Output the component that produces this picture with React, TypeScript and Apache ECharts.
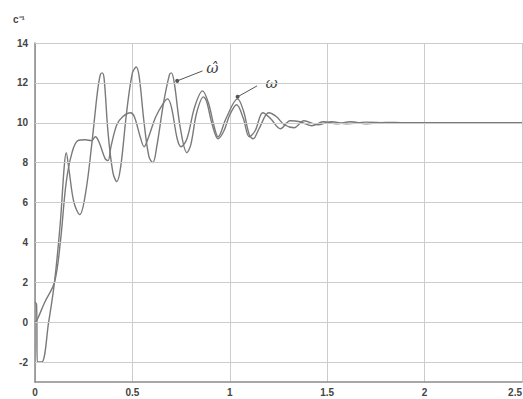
import React, { useEffect, useRef } from "react";
import * as echarts from "echarts";

// Estimated speed ω̂ (t [s], value [c^-1])
const omegaHat: [number, number][] = [
  [0, 1.0], [0.008, 0.9], [0.012, -2.0], [0.035, -2.0], [0.07, 0.0], [0.1, 2.0],
  [0.13, 5.0], [0.15, 7.8], [0.16, 8.5], [0.175, 7.6], [0.2, 6.0], [0.23, 5.4],
  [0.26, 6.5], [0.29, 8.8], [0.32, 11.5], [0.335, 12.4], [0.345, 12.5], [0.355, 12.2],
  [0.375, 9.5], [0.4, 7.5], [0.42, 7.05], [0.44, 7.8], [0.47, 10.5], [0.5, 12.5],
  [0.52, 12.8], [0.535, 12.3], [0.56, 10.0], [0.585, 8.3], [0.605, 8.0], [0.625, 8.8],
  [0.66, 11.0], [0.69, 12.4], [0.7, 12.5], [0.715, 12.0], [0.745, 9.8], [0.78, 8.5],
  [0.8, 8.9], [0.83, 10.5], [0.865, 11.3], [0.88, 11.1], [0.91, 9.9], [0.94, 9.2],
  [0.97, 9.6], [1.0, 10.4], [1.035, 10.9], [1.07, 10.2], [1.1, 9.3], [1.13, 9.6],
  [1.17, 10.5], [1.21, 10.2], [1.26, 9.7], [1.31, 10.1], [1.36, 10.05], [1.42, 9.85],
  [1.48, 10.05], [1.55, 9.95], [1.62, 10.05], [1.7, 9.95], [1.8, 10.02], [1.9, 10.0],
  [2.0, 10.0], [2.5, 10.0],
];

// Actual speed ω
const omega: [number, number][] = [
  [0, 0.0], [0.01, 0.1], [0.05, 1.0], [0.1, 2.0], [0.13, 4.0], [0.16, 7.0],
  [0.19, 8.5], [0.22, 9.1], [0.26, 9.15], [0.29, 9.1], [0.31, 9.3], [0.33, 9.0],
  [0.36, 8.2], [0.375, 8.1], [0.39, 8.8], [0.42, 9.9], [0.45, 10.3], [0.49, 10.5],
  [0.51, 10.3], [0.54, 9.3], [0.56, 8.8], [0.58, 9.2], [0.62, 10.3], [0.66, 11.0],
  [0.68, 11.2], [0.7, 10.8], [0.73, 9.2], [0.75, 8.8], [0.78, 9.2], [0.82, 10.8],
  [0.86, 11.6], [0.89, 11.0], [0.92, 9.8], [0.94, 9.3], [0.98, 10.2], [1.04, 11.2],
  [1.07, 10.6], [1.1, 9.4], [1.12, 9.2], [1.15, 9.7], [1.2, 10.5], [1.24, 10.3],
  [1.28, 9.9], [1.33, 9.75], [1.38, 10.1], [1.45, 9.9], [1.52, 10.05], [1.6, 9.95],
  [1.7, 10.03], [1.8, 10.0], [2.5, 10.0],
];

const yGridValues = [-2, 0, 2, 4, 6, 8, 10, 12, 14];
const yUnit = "c⁻¹";
const labelHat = "ω̂";
const labelOmega = "ω";
// annotation arrows: [label position, arrow start, arrow end] in data coords
const hatArrow: [number, number][] = [[0.91, 12.75], [0.86, 12.6], [0.73, 12.1]];
const omegaArrow: [number, number][] = [[1.215, 12.0], [1.14, 11.85], [1.04, 11.3]];

export default function App() {
  const ref = useRef<HTMLDivElement>(null);
  useEffect(() => {
    if (!ref.current) return;
    const chart = echarts.init(ref.current, undefined, { renderer: "svg" });
    const curveColor = "#7a7a7a";
    const gridColor = "#cccccc";
    const arrowLine = (a: [number, number][]) => [
      { coord: a[1], symbol: "none" },
      { coord: a[2], symbol: "circle" },
    ];
    chart.setOption({
      animation: false,
      backgroundColor: "#ffffff",
      grid: {
        left: 35,
        right: 1,
        top: 43,
        bottom: 17,
        containLabel: false,
        outerBoundsMode: "none",
      },
      xAxis: {
        type: "value",
        min: 0,
        max: 2.5,
        interval: 0.5,
        axisLine: { show: true, onZero: false, lineStyle: { color: "#8a8a8a", width: 1.5 } },
        axisTick: { show: false },
        axisLabel: {
          margin: 5,
          color: "#444",
          fontSize: 10,
          fontWeight: "bold",
          fontFamily: "Liberation Sans, Arial, sans-serif",
          alignMaxLabel: "right",
          formatter: (v: number) => String(v),
        },
        splitLine: { show: true, lineStyle: { color: gridColor, width: 1 } },
      },
      yAxis: {
        type: "value",
        min: -3,
        max: 14,
        interval: 1,
        axisLine: { show: true, lineStyle: { color: "#8a8a8a", width: 1.5 } },
        axisTick: { show: false },
        axisLabel: {
          margin: 7,
          color: "#444",
          fontSize: 10,
          fontWeight: "bold",
          fontFamily: "Liberation Sans, Arial, sans-serif",
          formatter: (v: number) => (yGridValues.includes(v) ? String(v) : ""),
        },
        splitLine: { show: false },
      },
      series: [
        {
          type: "line",
          data: [[0, -3]],
          z: 0,
          silent: true,
          showSymbol: false,
          lineStyle: { opacity: 0 },
          markLine: {
            silent: true,
            symbol: ["none", "none"],
            label: { show: false },
            lineStyle: { color: gridColor, type: "solid", width: 1 },
            data: yGridValues.map((v) => ({ yAxis: v })),
          },
        },
        {
          name: "omegaHat",
          type: "line",
          data: omegaHat,
          showSymbol: false,
          smooth: 0.35,
          z: 3,
          lineStyle: { color: curveColor, width: 1.4 },
          markLine: {
            silent: true,
            symbolSize: 4,
            label: { show: false },
            lineStyle: { color: "#555", type: "solid", width: 1 },
            data: [arrowLine(hatArrow)],
          },
        },
        {
          name: "omega",
          type: "line",
          data: omega,
          showSymbol: false,
          smooth: 0.35,
          z: 3,
          lineStyle: { color: curveColor, width: 1.4 },
          markLine: {
            silent: true,
            symbolSize: 4,
            label: { show: false },
            lineStyle: { color: "#555", type: "solid", width: 1 },
            data: [arrowLine(omegaArrow)],
          },
        },
      ],
    });
    const p1 = chart.convertToPixel({ gridIndex: 0 }, hatArrow[0]) as number[];
    const p2 = chart.convertToPixel({ gridIndex: 0 }, omegaArrow[0]) as number[];
    chart.setOption({
      graphic: [
        {
          type: "text",
          left: 13,
          top: 14,
          style: {
            text: yUnit,
            fill: "#444",
            font: "bold 10px 'Liberation Sans', Arial, sans-serif",
          },
        },
        {
          type: "text",
          x: p1[0],
          y: p1[1],
          style: {
            text: labelHat,
            fill: "#444",
            font: "italic 15px 'DejaVu Serif', 'Liberation Serif', serif",
            align: "center",
            verticalAlign: "middle",
          },
        },
        {
          type: "text",
          x: p2[0],
          y: p2[1],
          style: {
            text: labelOmega,
            fill: "#444",
            font: "italic 15px 'DejaVu Serif', 'Liberation Serif', serif",
            align: "center",
            verticalAlign: "middle",
          },
        },
      ],
    });
    return () => chart.dispose();
  }, []);
  return <div ref={ref} style={{ width: 523, height: 399, position: "fixed", left: 0, top: 0 }} />;
}
